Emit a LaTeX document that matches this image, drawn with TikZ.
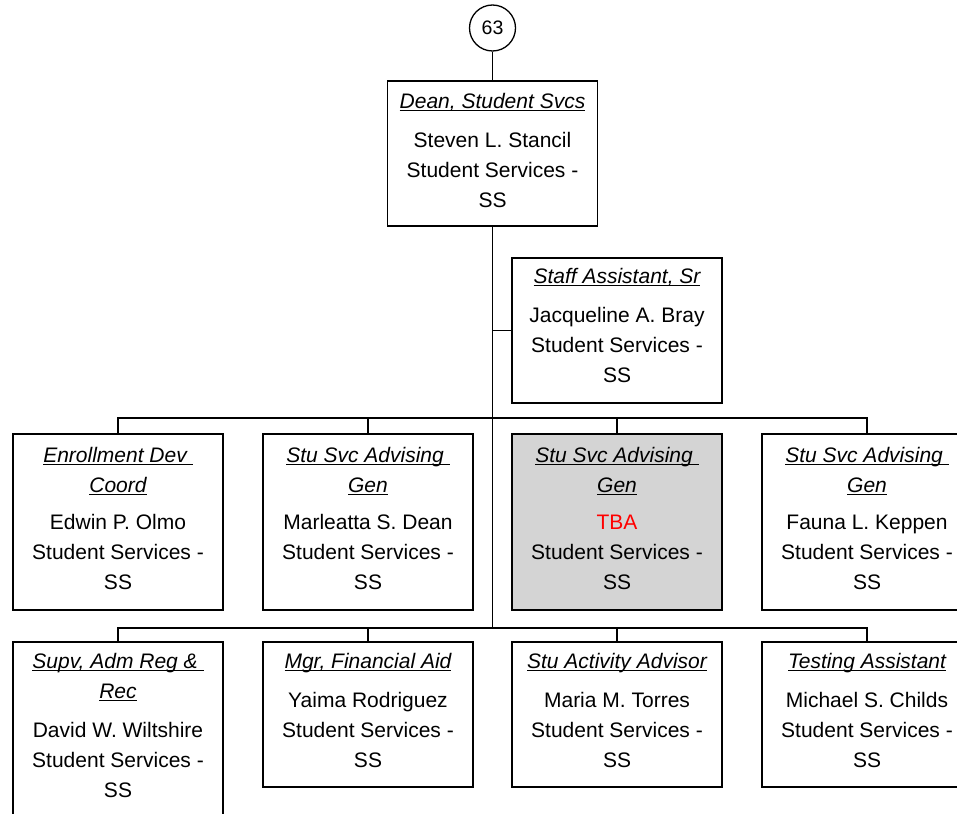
\documentclass[tikz,border=0pt]{standalone}
\usepackage{fontspec}
\setmainfont{Liberation Sans}
\definecolor{boxgray}{RGB}{212,212,212}
\newcommand{\ttl}[1]{\setbox0=\hbox{\itshape #1}\rlap{\rule[-3pt]{\wd0}{1.3pt}}\box0}
\newcommand{\dept}{Student Services -\hspace*{0.28em}\\ SS}
\tikzset{
  box/.style={draw,minimum width=210,minimum height=#1,inner sep=0pt},
  box/.default=145,
  txt/.style={anchor=north,align=center,inner sep=0pt,font=\fontsize{21}{30}\selectfont},
}
\begin{document}
\begin{tikzpicture}[x=1pt,y=-1pt,line width=1.3pt]
  \useasboundingbox (0,0) rectangle (957,813);
  \clip (0,0) rectangle (957,813);
  % top
  \node[draw,circle,minimum size=46,inner sep=0pt,font=\fontsize{19.5}{23}\selectfont] (num) at (492.5,28) {63};
  \node[box] (dean) at (492.5,153.5) {};
  \node[txt] (deant) at ([yshift=-12]dean.north) {\ttl{Dean, Student Svcs}\\[9pt] Steven L. Stancil\\ \dept};
  \node[box] (staff) at (617,330.5) {};
  \node[txt] (stafft) at ([yshift=-10]staff.north) {\ttl{Staff Assistant, Sr}\\[9pt] Jacqueline A. Bray\\ \dept};
  % first row
  \node[box=176] (edc) at (118,522) {};
  \node[box=176] (adv1) at (368,522) {};
  \node[box=176,fill=boxgray] (adv2) at (617,522) {};
  \node[box=176] (adv3) at (867,522) {};
  \node[txt] (edct) at ([yshift=-13]edc.north) {\ttl{Enrollment Dev\ }\\ \ttl{Coord}\\[7pt] Edwin P. Olmo\\ \dept};
  \node[txt] (adv1t) at ([yshift=-13]adv1.north) {\ttl{Stu Svc Advising\ }\\ \ttl{Gen}\\[7pt] Marleatta S. Dean\\ \dept};
  \node[txt] (adv2t) at ([yshift=-13]adv2.north) {\ttl{Stu Svc Advising\ }\\ \ttl{Gen}\\[7pt] \textcolor{red}{TBA}\\ \dept};
  \node[txt] (adv3t) at ([yshift=-13]adv3.north) {\ttl{Stu Svc Advising\ }\\ \ttl{Gen}\\[7pt] Fauna L. Keppen\\ \dept};
  % second row
  \node[box=176] (reg) at (118,730) {};
  \node[box] (aid) at (368,714.5) {};
  \node[box] (act) at (617,714.5) {};
  \node[box] (tst) at (867,714.5) {};
  \node[txt] (regt) at ([yshift=-11]reg.north) {\ttl{Supv, Adm Reg \&\ }\\ \ttl{Rec}\\[9pt] David W. Wiltshire\\ \dept};
  \node[txt] (aidt) at ([yshift=-11]aid.north) {\ttl{Mgr, Financial Aid}\\[9pt] Yaima Rodriguez\\ \dept};
  \node[txt] (actt) at ([yshift=-11]act.north) {\ttl{Stu Activity Advisor}\\[9pt] Maria M. Torres\\ \dept};
  \node[txt] (tstt) at ([yshift=-11]tst.north) {\ttl{Testing Assistant}\\[9pt] Michael S. Childs\\ \dept};
  % connectors
  \coordinate (bar1) at (492.5,418);
  \coordinate (bar2) at (492.5,628);
  \draw (num) -- (dean);
  \draw (dean) -- (bar2);
  \draw (staff.west) -- (staff.west -| bar2);
  \foreach \b in {edc,adv1,adv2,adv3} \draw (\b.north) |- (bar1);
  \foreach \b in {reg,aid,act,tst} \draw (\b.north) |- (bar2);
\end{tikzpicture}
\end{document}
